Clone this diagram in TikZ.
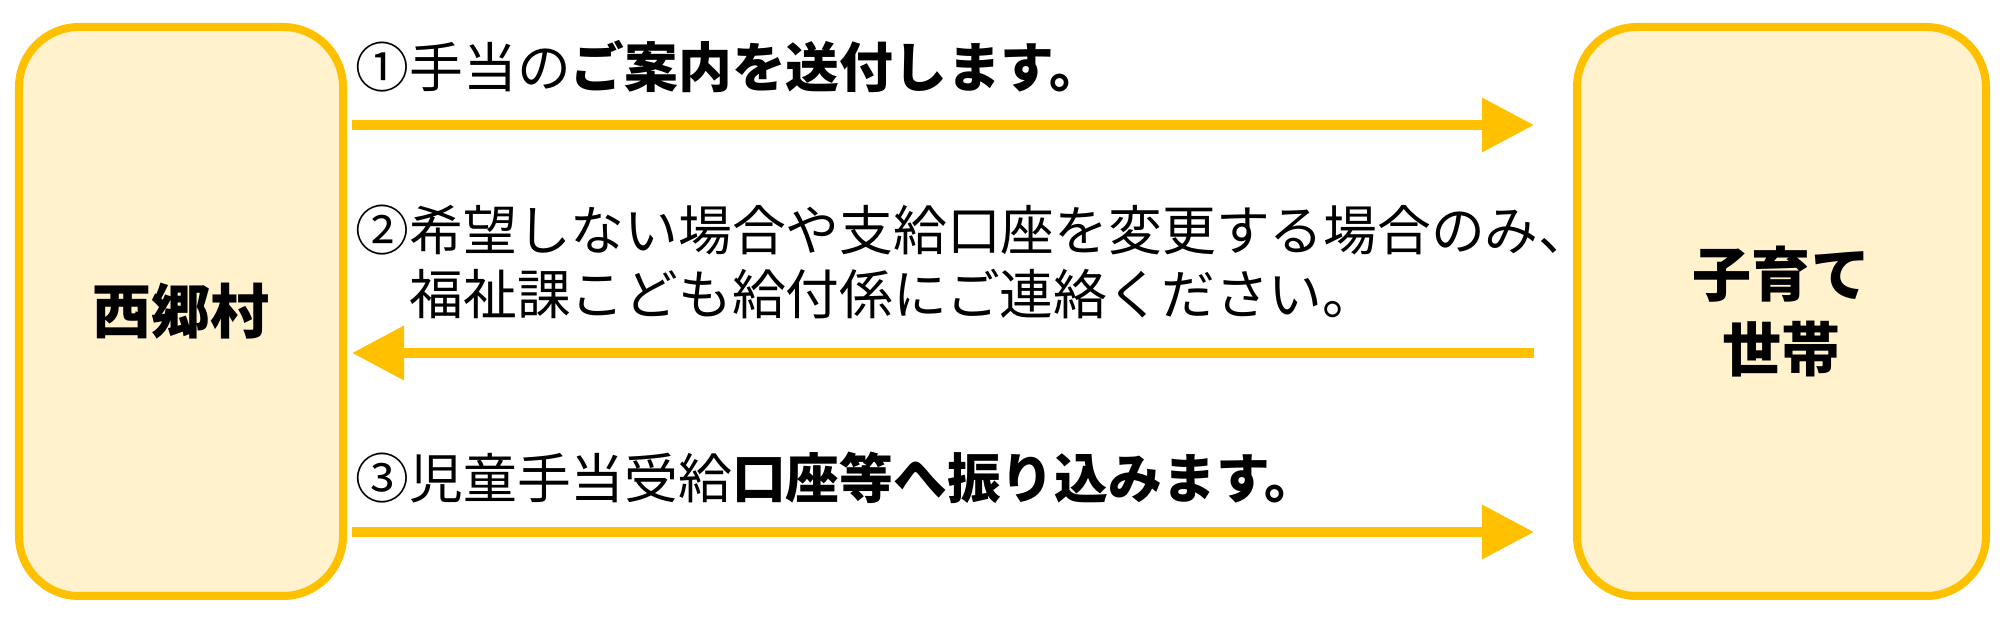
\documentclass[tikz,border=0pt]{standalone}
\usepackage{fontspec}
\usepackage{xcolor}
\usepackage{tikz}
\usetikzlibrary{arrows.meta, positioning, calc}
\setmainfont{Noto Sans CJK JP}
\definecolor{gold}{HTML}{FFC000}
\definecolor{lightgold}{HTML}{FFF2CC}

\begin{document}
\begin{tikzpicture}[
    party/.style={draw=gold, fill=lightgold, line width=0.08cm, rounded corners=0.6cm,
        align=center, inner sep=0pt, font=\fontsize{16.8pt}{21.2pt}\selectfont\bfseries},
    flow/.style={draw=gold, line width=0.1cm, -{Triangle[length=0.52cm, width=0.52cm]}},
    msg/.style={anchor=west, align=left, inner sep=0pt, font=\fontsize{15.3pt}{18.2pt}\selectfont}
]
    \useasboundingbox (0,0) rectangle (20,6.18);
    % Village and households
    \node[party, minimum width=3.24cm, minimum height=5.69cm] (vil) at (1.81,3.065) {西郷村};
    \node[party, minimum width=4.09cm, minimum height=5.69cm] (home) at (17.815,3.065) {子育て\\世帯};
    % Rows of the arrows
    \coordinate (r1) at (0,4.93);
    \coordinate (r2) at (0,2.65);
    \coordinate (r3) at (0,0.86);
    \draw[flow, shorten <=0.05cm, shorten >=0.39cm] (vil.east |- r1) -- (home.west |- r1);
    \draw[flow, shorten <=0.39cm, shorten >=0.05cm] (home.west |- r2) -- (vil.east |- r2);
    \draw[flow, shorten <=0.05cm, shorten >=0.39cm] (vil.east |- r3) -- (home.west |- r3);
    % Messages
    \node[msg] (m1) at (3.55,5.51) {①手当の\textbf{ご案内を送付します。}};
    \node[msg] (m2) at (3.55,3.565) {②希望しない場合や支給口座を変更する場合のみ、\\　福祉課こども給付係にご連絡ください。};
    \node[msg] (m3) at (3.55,1.40) {③児童手当受給\textbf{口座等へ振り込みます。}};
\end{tikzpicture}
\end{document}
